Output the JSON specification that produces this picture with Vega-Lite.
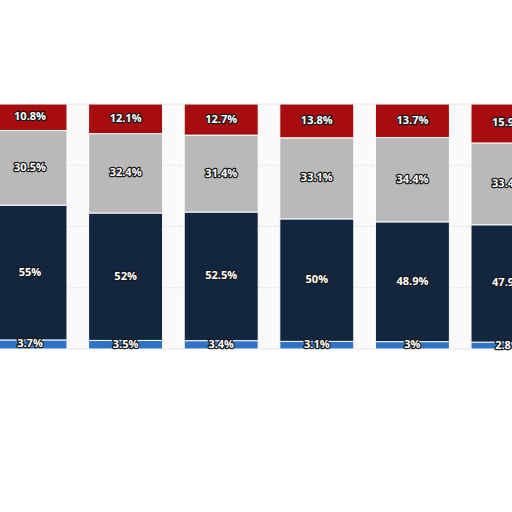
{
  "$schema": "https://vega.github.io/schema/vega-lite/v6.json",
  "width": 512,
  "height": 512,
  "autosize": {"type": "none"},
  "padding": 0,
  "background": "white",
  "config": {"view": {"stroke": null}},
  "datasets": {
    "frame": [{"lo": 0, "hi": 100}],
    "grid": [{"v": 25}, {"v": 50}, {"v": 75}],
    "shares": [
      {"bar": "B1", "seg": "S1", "rank": 1, "pct": 3.7},
      {"bar": "B1", "seg": "S2", "rank": 2, "pct": 55},
      {"bar": "B1", "seg": "S3", "rank": 3, "pct": 30.5},
      {"bar": "B1", "seg": "S4", "rank": 4, "pct": 10.8},
      {"bar": "B2", "seg": "S1", "rank": 1, "pct": 3.5},
      {"bar": "B2", "seg": "S2", "rank": 2, "pct": 52},
      {"bar": "B2", "seg": "S3", "rank": 3, "pct": 32.4},
      {"bar": "B2", "seg": "S4", "rank": 4, "pct": 12.1},
      {"bar": "B3", "seg": "S1", "rank": 1, "pct": 3.4},
      {"bar": "B3", "seg": "S2", "rank": 2, "pct": 52.5},
      {"bar": "B3", "seg": "S3", "rank": 3, "pct": 31.4},
      {"bar": "B3", "seg": "S4", "rank": 4, "pct": 12.7},
      {"bar": "B4", "seg": "S1", "rank": 1, "pct": 3.1},
      {"bar": "B4", "seg": "S2", "rank": 2, "pct": 50},
      {"bar": "B4", "seg": "S3", "rank": 3, "pct": 33.1},
      {"bar": "B4", "seg": "S4", "rank": 4, "pct": 13.8},
      {"bar": "B5", "seg": "S1", "rank": 1, "pct": 3},
      {"bar": "B5", "seg": "S2", "rank": 2, "pct": 48.9},
      {"bar": "B5", "seg": "S3", "rank": 3, "pct": 34.4},
      {"bar": "B5", "seg": "S4", "rank": 4, "pct": 13.7},
      {"bar": "B6", "seg": "S1", "rank": 1, "pct": 2.8},
      {"bar": "B6", "seg": "S2", "rank": 2, "pct": 47.9},
      {"bar": "B6", "seg": "S3", "rank": 3, "pct": 33.4},
      {"bar": "B6", "seg": "S4", "rank": 4, "pct": 15.9}
    ]
  },
  "layer": [
    {
      "data": {"name": "frame"},
      "mark": {"type": "rect", "color": "#fafafa", "stroke": "#e6e6e6", "strokeWidth": 1},
      "encoding": {
        "y": {"field": "lo", "type": "quantitative", "axis": null,
              "scale": {"domain": [0, 100], "range": [349, 104], "nice": false}},
        "y2": {"field": "hi"}
      }
    },
    {
      "data": {"name": "grid"},
      "mark": {"type": "rule", "color": "#cfcfcf", "strokeDash": [1, 2], "strokeWidth": 1},
      "encoding": {
        "y": {"field": "v", "type": "quantitative"}
      }
    },
    {
      "data": {"name": "shares"},
      "transform": [
        {"stack": "pct", "groupby": ["bar"], "sort": [{"field": "rank", "order": "ascending"}], "as": ["y0", "y1"]},
        {"calculate": "(datum.y0 + datum.y1) / 2", "as": "mid"},
        {"calculate": "format(datum.pct, '.1~f') + '%'", "as": "label"}
      ],
      "encoding": {
        "x": {"field": "bar", "type": "nominal", "axis": null,
              "scale": {"domain": ["B1", "B2", "B3", "B4", "B5", "B6"], "range": [-17.8, 555.8],
                        "paddingInner": 0.226, "paddingOuter": 0.113}}
      },
      "layer": [
        {
          "mark": {"type": "bar", "stroke": "white", "strokeWidth": 1},
          "encoding": {
            "y": {"field": "y0", "type": "quantitative"},
            "y2": {"field": "y1"},
            "color": {"field": "seg", "type": "nominal", "legend": null,
                      "scale": {"domain": ["S1", "S2", "S3", "S4"],
                                "range": ["#2f73c7", "#13263f", "#b9b9b9", "#a70c0e"]}}
          }
        },
        {
          "mark": {"type": "text", "font": "Open Sans", "fontSize": 11, "fontWeight": "bold",
                   "fill": "#1a1a1a", "stroke": "#1a1a1a", "strokeWidth": 2.5, "strokeJoin": "round", "baseline": "middle"},
          "encoding": {
            "y": {"field": "mid", "type": "quantitative"},
            "text": {"field": "label"}
          }
        },
        {
          "mark": {"type": "text", "font": "Open Sans", "fontSize": 11, "fontWeight": "bold",
                   "fill": "white", "baseline": "middle"},
          "encoding": {
            "y": {"field": "mid", "type": "quantitative"},
            "text": {"field": "label"}
          }
        }
      ]
    }
  ]
}
